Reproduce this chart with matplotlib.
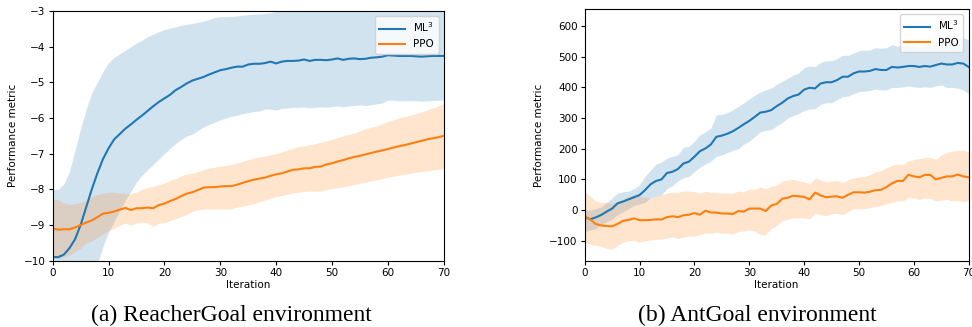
import numpy as np
import matplotlib
matplotlib.use("Agg")
from matplotlib import pyplot as plt

iters = np.arange(71)

# (a) ReacherGoal
reacher_ml3 = [-9.9, -9.9, -9.83, -9.65, -9.4, -9.0, -8.5, -8.0, -7.55, -7.15,
               -6.85, -6.6, -6.45, -6.3, -6.18, -6.05, -5.93, -5.8, -5.67, -5.55,
               -5.45, -5.35, -5.22, -5.13, -5.03, -4.95, -4.9, -4.85, -4.78, -4.72,
               -4.66, -4.63, -4.59, -4.56, -4.56, -4.5, -4.48, -4.48, -4.46, -4.42,
               -4.47, -4.42, -4.4, -4.4, -4.39, -4.36, -4.4, -4.37, -4.37, -4.38,
               -4.36, -4.33, -4.37, -4.34, -4.33, -4.35, -4.34, -4.31, -4.3, -4.28,
               -4.24, -4.25, -4.26, -4.26, -4.26, -4.27, -4.28, -4.27, -4.26, -4.26,
               -4.26]
reacher_ml3_hi = [-8.0, -8.0, -7.85, -7.5, -6.9, -6.3, -5.75, -5.3, -5.0, -4.7,
                  -4.45, -4.3, -4.2, -4.1, -4.0, -3.9, -3.82, -3.72, -3.65, -3.58,
                  -3.52, -3.48, -3.44, -3.4, -3.37, -3.35, -3.32, -3.28, -3.24, -3.18,
                  -3.16, -3.16, -3.15, -3.14, -3.12, -3.1, -3.09, -3.08, -3.07, -3.05,
                  -3.02, -3.01, -3.0, -2.99, -2.98, -2.97, -2.97, -2.96, -2.96, -2.95,
                  -2.95, -2.94, -2.95, -2.94, -2.93, -2.94, -2.93, -2.92, -2.92, -2.9,
                  -2.88, -2.89, -2.9, -2.9, -2.9, -2.91, -2.92, -2.91, -2.9, -2.9,
                  -2.9]
reacher_ml3_lo = [-11.8, -11.8, -11.6, -11.45, -11.2, -11.0, -10.8, -10.5, -10.1, -9.6,
                  -9.2, -8.9, -8.6, -8.3, -8.05, -7.8, -7.6, -7.45, -7.3, -7.15,
                  -7.0, -6.85, -6.72, -6.6, -6.5, -6.45, -6.35, -6.25, -6.18, -6.12,
                  -6.05, -6.0, -5.95, -5.92, -5.88, -5.85, -5.82, -5.8, -5.75, -5.75,
                  -5.78, -5.73, -5.72, -5.7, -5.7, -5.69, -5.72, -5.7, -5.69, -5.7,
                  -5.68, -5.66, -5.69, -5.66, -5.65, -5.63, -5.65, -5.63, -5.6, -5.58,
                  -5.5, -5.5, -5.52, -5.52, -5.51, -5.52, -5.53, -5.52, -5.51, -5.5,
                  -5.5]
reacher_ppo = [-9.1, -9.13, -9.12, -9.12, -9.07, -9.0, -8.93, -8.87, -8.78, -8.68,
               -8.66, -8.62, -8.57, -8.52, -8.58, -8.53, -8.53, -8.51, -8.53, -8.44,
               -8.4, -8.33, -8.27, -8.19, -8.12, -8.08, -8.02, -7.95, -7.94, -7.94,
               -7.92, -7.91, -7.91, -7.87, -7.82, -7.77, -7.73, -7.7, -7.67, -7.62,
               -7.58, -7.55, -7.5, -7.45, -7.44, -7.41, -7.41, -7.37, -7.36, -7.3,
               -7.27, -7.22, -7.18, -7.13, -7.09, -7.06, -7.02, -6.98, -6.94, -6.91,
               -6.87, -6.83, -6.79, -6.76, -6.72, -6.68, -6.64, -6.6, -6.57, -6.54,
               -6.5]
reacher_ppo_hi = [-8.27, -8.3, -8.38, -8.42, -8.4, -8.37, -8.3, -8.2, -8.15, -8.1,
                  -8.08, -8.08, -8.1, -8.12, -8.12, -8.08, -8.0, -7.95, -7.92, -7.87,
                  -7.82, -7.75, -7.7, -7.62, -7.57, -7.55, -7.5, -7.45, -7.4, -7.38,
                  -7.35, -7.33, -7.3, -7.26, -7.22, -7.17, -7.12, -7.1, -7.07, -7.03,
                  -7.0, -6.95, -6.9, -6.85, -6.8, -6.78, -6.75, -6.72, -6.68, -6.64,
                  -6.6, -6.55, -6.5, -6.46, -6.42, -6.36, -6.3, -6.26, -6.22, -6.16,
                  -6.1, -6.05, -6.0, -5.96, -5.92, -5.88, -5.83, -5.78, -5.72, -5.66,
                  -5.6]
reacher_ppo_lo = [-9.9, -9.95, -9.9, -9.85, -9.75, -9.65, -9.5, -9.45, -9.35, -9.25,
                  -9.15, -9.1, -9.0, -8.95, -9.0, -8.95, -8.92, -8.95, -9.03, -8.95,
                  -8.93, -8.88, -8.82, -8.77, -8.7, -8.62, -8.57, -8.55, -8.55, -8.55,
                  -8.55, -8.55, -8.55, -8.5, -8.47, -8.44, -8.4, -8.35, -8.3, -8.25,
                  -8.2, -8.17, -8.14, -8.1, -8.08, -8.06, -8.05, -8.05, -8.05, -8.0,
                  -7.98, -7.95, -7.93, -7.9, -7.86, -7.83, -7.8, -7.76, -7.73, -7.7,
                  -7.66, -7.63, -7.6, -7.58, -7.55, -7.52, -7.5, -7.48, -7.46, -7.44,
                  -7.42]

# (b) AntGoal
ant_ml3 = [-22, -30, -24, -16, -5, 5, 22, 28, 35, 42,
           49, 65, 84, 95, 100, 121, 125, 134, 152, 158,
           174, 192, 201, 214, 239, 243, 249, 257, 268, 280,
           291, 304, 318, 321, 326, 339, 350, 364, 372, 377,
           393, 399, 397, 413, 417, 417, 424, 435, 435, 446,
           452, 452, 454, 460, 457, 457, 467, 465, 467, 470,
           470, 467, 470, 468, 473, 478, 475, 475, 480, 478,
           467]
ant_ml3_hi = [0, 0, 5, 10, 25, 40, 55, 60, 62, 70,
              82, 110, 130, 150, 157, 170, 175, 180, 205, 208,
              225, 245, 255, 268, 310, 312, 318, 327, 338, 350,
              362, 375, 385, 392, 398, 410, 420, 430, 440, 447,
              465, 470, 468, 482, 487, 487, 494, 505, 505, 512,
              520, 522, 522, 530, 528, 530, 540, 535, 535, 536,
              535, 532, 538, 537, 542, 548, 550, 552, 560, 562,
              555]
ant_ml3_lo = [-70, -65, -60, -48, -38, -30, -15, -5, 5, 15,
              20, 25, 40, 45, 50, 70, 80, 95, 105, 110,
              125, 140, 150, 160, 175, 180, 188, 195, 200, 215,
              225, 240, 255, 260, 262, 275, 285, 300, 308, 315,
              325, 330, 330, 345, 350, 350, 360, 370, 372, 380,
              386, 388, 390, 395, 392, 392, 400, 400, 402, 405,
              402, 400, 402, 400, 405, 408, 400, 400, 398, 392,
              380]
ant_ppo = [-20, -30, -45, -50, -52, -53, -45, -35, -32, -27,
           -33, -33, -32, -30, -31, -23, -20, -23, -17, -15,
           -10, -15, -2, -8, -8, -11, -11, -13, -3, -5,
           5, 5, 5, -3, 15, 20, 37, 40, 47, 45,
           43, 35, 57, 48, 42, 44, 45, 40, 50, 58,
           58, 57, 60, 65, 66, 75, 87, 95, 95, 115,
           110, 107, 115, 115, 100, 105, 110, 110, 116, 110,
           107]
ant_ppo_hi = [60, 45, 30, 25, 25, 22, 30, 35, 45, 50,
              45, 42, 40, 45, 50, 55, 58, 58, 62, 62,
              60, 55, 62, 58, 58, 55, 56, 55, 62, 60,
              68, 68, 75, 70, 78, 82, 95, 98, 100, 96,
              92, 85, 105, 98, 92, 95, 96, 90, 98, 105,
              108, 110, 115, 125, 128, 138, 145, 150, 148, 160,
              165, 168, 172, 172, 165, 180, 188, 192, 195, 195,
              190]
ant_ppo_lo = [-105, -110, -115, -118, -125, -128, -115, -105, -100, -98,
              -105, -100, -98, -95, -95, -90, -88, -92, -88, -85,
              -85, -80, -75, -75, -72, -75, -75, -78, -70, -68,
              -65, -68, -80, -80, -60, -50, -35, -30, -25, -25,
              -25, -28, -10, -15, -18, -12, -10, -15, -5, 5,
              5, 5, 8, 12, 15, 20, 25, 30, 30, 40,
              40, 35, 40, 38, 30, 32, 35, 30, 32, 28,
              30]

blue = "#1f77b4"
orange = "#ff7f0e"

fig = plt.figure(figsize=(9.72, 3.27), dpi=100)
ax1 = fig.add_axes([0.0542, 0.2028, 0.4023, 0.7636])
ax2 = fig.add_axes([0.6015, 0.2028, 0.3951, 0.7688])


def draw(ax, ml3, ml3_lo, ml3_hi, ppo, ppo_lo, ppo_hi):
    ax.fill_between(iters, ml3_lo, ml3_hi, color=blue, alpha=0.2, linewidth=0)
    ax.fill_between(iters, ppo_lo, ppo_hi, color=orange, alpha=0.2, linewidth=0)
    ax.plot(iters, ml3, color=blue, lw=1.5, label="ML$^3$")
    ax.plot(iters, ppo, color=orange, lw=1.5, label="PPO")
    ax.set_xlim(0, 70)
    ax.set_xlabel("Iteration", fontsize=7.5, labelpad=2)
    ax.set_ylabel("Performance metric", fontsize=7.5, labelpad=4)
    ax.tick_params(labelsize=7.5, length=3, pad=2)
    ax.legend(loc="upper right", fontsize=7.5, handlelength=2.5)


draw(ax1, reacher_ml3, reacher_ml3_lo, reacher_ml3_hi,
     reacher_ppo, reacher_ppo_lo, reacher_ppo_hi)
ax1.set_ylim(-10, -3)

draw(ax2, ant_ml3, ant_ml3_lo, ant_ml3_hi, ant_ppo, ant_ppo_lo, ant_ppo_hi)
ax2.set_ylim(-165, 655)
ax2.set_yticks(np.arange(-100, 700, 100))

fig.text(0.238, 0.035, "(a) ReacherGoal environment", ha="center", va="center",
         family="Liberation Serif", fontsize=17)
fig.text(0.779, 0.035, "(b) AntGoal environment", ha="center", va="center",
         family="Liberation Serif", fontsize=17)

fig.savefig("out.png", dpi=100)
